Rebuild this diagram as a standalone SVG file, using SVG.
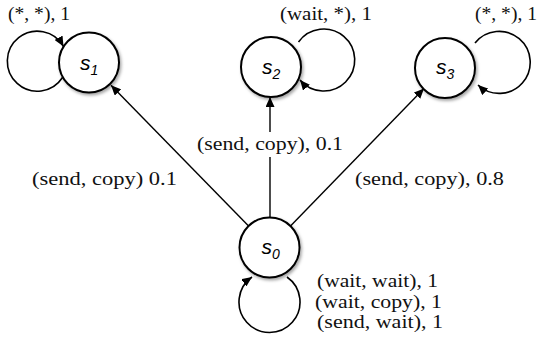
<svg xmlns="http://www.w3.org/2000/svg" width="538" height="341" viewBox="0 0 538 341">
  <style>
    .node { fill: #ffffff; stroke: #000000; stroke-width: 2; }
    .edge { fill: none; stroke: #000000; stroke-width: 1.4; marker-end: url(#arrow); }
    .loop { fill: none; stroke: #000000; stroke-width: 1.6; }
    .lbl { font-family: "Liberation Serif", "Times New Roman", serif; font-size: 19px; fill: #111111; }
    .st { font-family: "Liberation Sans", Arial, sans-serif; font-style: italic; font-size: 21px; fill: #000000; }
    .sub { font-size: 14px; }
  </style>
  <defs>
    <marker id="arrow" markerUnits="userSpaceOnUse" markerWidth="11" markerHeight="9" refX="10" refY="4.5" orient="auto">
      <path d="M0,0 L10,4.5 L0,9 z" fill="#000000"/>
    </marker>
    <filter id="shadow" x="-30%" y="-30%" width="170%" height="170%">
      <feDropShadow dx="1.5" dy="2" stdDeviation="1.8" flood-color="#000000" flood-opacity="0.35"/>
    </filter>
  </defs>
  <rect width="538" height="341" fill="#ffffff"/>

  <g id="connectors">
    <path class="loop edge" d="M 62.5 77.5 A 30 30 0 1 1 63.5 46.5"/>
    <path class="loop edge" d="M 298.5 42 A 31 31 0 1 1 300 80"/>
    <path class="loop edge" d="M 475 43 A 31 31 0 1 1 478 85"/>
    <path class="loop edge" d="M 287 277 A 30.5 30.5 0 1 1 252 277"/>
    <path class="edge" d="M 248.6 226 L 111 85.3"/>
    <path class="edge" d="M 270 217.5 L 270 97"/>
    <path class="edge" d="M 290.5 226 L 424 88.5"/>
  </g>

  <g id="node-s1">
    <circle class="node" cx="89" cy="62.5" r="30" filter="url(#shadow)"/>
    <text class="st" x="80" y="70">s<tspan class="sub" dy="5">1</tspan></text>
  </g>
  <g id="node-s2">
    <circle class="node" cx="271" cy="67" r="30" filter="url(#shadow)"/>
    <text class="st" x="262" y="74">s<tspan class="sub" dy="5">2</tspan></text>
  </g>
  <g id="node-s3">
    <circle class="node" cx="445" cy="68" r="30" filter="url(#shadow)"/>
    <text class="st" x="436" y="74">s<tspan class="sub" dy="5">3</tspan></text>
  </g>
  <g id="node-s0">
    <circle class="node" cx="269.5" cy="247.5" r="30" filter="url(#shadow)"/>
    <text class="st" x="261.5" y="253.5">s<tspan class="sub" dy="5">0</tspan></text>
  </g>

  <g id="labels">
    <text class="lbl" x="8" y="20" textLength="62" lengthAdjust="spacingAndGlyphs">(*, *), 1</text>
    <text class="lbl" x="280" y="20" textLength="92" lengthAdjust="spacingAndGlyphs">(wait, *), 1</text>
    <text class="lbl" x="475" y="20" textLength="62" lengthAdjust="spacingAndGlyphs">(*, *), 1</text>
    <text class="lbl" x="32" y="185" textLength="145" lengthAdjust="spacingAndGlyphs">(send, copy) 0.1</text>
    <rect x="195" y="132" width="150" height="25" fill="#ffffff"/>
    <text class="lbl" x="197" y="150" textLength="146" lengthAdjust="spacingAndGlyphs">(send, copy), 0.1</text>
    <text class="lbl" x="355" y="185" textLength="149" lengthAdjust="spacingAndGlyphs">(send, copy), 0.8</text>
    <text class="lbl" x="317" y="287" textLength="121" lengthAdjust="spacingAndGlyphs">(wait, wait), 1</text>
    <text class="lbl" x="315" y="307.5" textLength="127" lengthAdjust="spacingAndGlyphs">(wait, copy), 1</text>
    <text class="lbl" x="317" y="328" textLength="126" lengthAdjust="spacingAndGlyphs">(send, wait), 1</text>
  </g>
</svg>
